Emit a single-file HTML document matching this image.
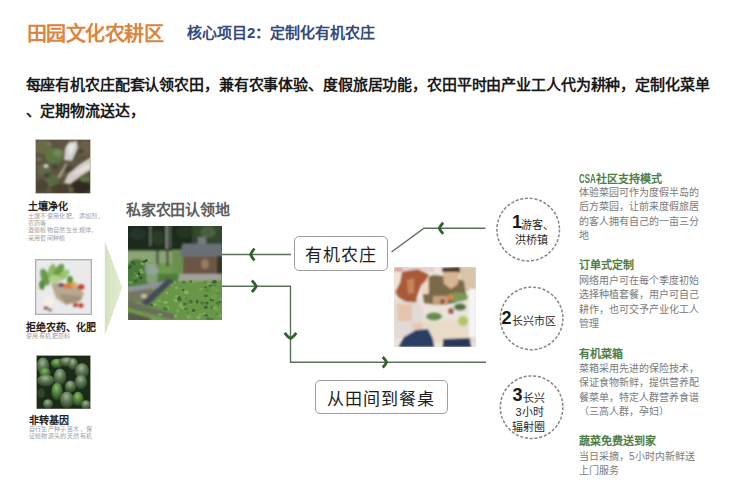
<!DOCTYPE html>
<html lang="zh-CN"><head><meta charset="utf-8">
<style>
html,body{margin:0;padding:0;background:#fff;}
body{width:740px;height:492px;position:relative;overflow:hidden;font-family:"Liberation Sans",sans-serif;}
.t{position:absolute;white-space:nowrap;line-height:1;}
.title{left:26.5px;top:24px;font-size:20px;letter-spacing:-0.5px;font-weight:bold;color:#db8540;}
.sub{left:187px;top:24.6px;font-size:15px;font-weight:bold;color:#34497a;}
.para{left:25.5px;top:71.6px;font-size:15px;letter-spacing:-0.13px;font-weight:bold;color:#1a1a1a;line-height:26.5px;}
.h1{font-size:10px;font-weight:bold;color:#222;}
.s1{font-size:6px;letter-spacing:0.4px;color:#a0a0a0;line-height:7.4px;}
.photo{position:absolute;overflow:hidden;}
.box{position:absolute;border:1.3px solid #9e9e9e;border-radius:5px;background:#fff;box-sizing:border-box;}
.bt{position:absolute;font-size:17px;letter-spacing:1px;color:#1e1e1e;line-height:1;white-space:nowrap;}
.rh{font-size:11px;font-weight:bold;color:#4f7d45;}
.csa{display:inline-block;width:17.3px;white-space:nowrap;}
.csa i{font-style:normal;font-size:12.5px;display:inline-block;transform:scaleX(0.64);transform-origin:0 0;vertical-align:-0.5px}
.rb{font-size:10px;color:#7a7a7a;line-height:14.3px;}
.circ{position:absolute;width:64px;height:64px;border-radius:50%;border:1.4px dashed #8a8a8a;box-sizing:border-box;}
.cn{font-size:18px;font-weight:bold;color:#1a1a1a;}
.ct{font-size:11px;color:#2a2a2a;}
</style></head><body>

<div class="t title">田园文化农耕区</div>
<div class="t sub">核心项目2：定制化有机农庄</div>
<div class="t para">每座有机农庄配套认领农田，兼有农事体验、度假旅居功能，农田平时由产业工人代为耕种，定制化菜单<br>、定期物流送达，</div>

<!-- left photos -->
<svg class="photo" style="left:35px;top:139px;width:56px;height:55px" viewBox="0 0 56 55">
  <defs><filter id="b1" x="-20%" y="-20%" width="140%" height="140%"><feGaussianBlur stdDeviation="1"/></filter>
  <filter id="b1b" x="-20%" y="-20%" width="140%" height="140%"><feGaussianBlur stdDeviation="0.5"/></filter></defs>
  <rect width="56" height="55" fill="#5c5442"/>
  <g filter="url(#b1)">
    <ellipse cx="8" cy="8" rx="9" ry="7" fill="#6a6a4a"/>
    <ellipse cx="19" cy="17" rx="9" ry="8" fill="#5d7444"/>
    <ellipse cx="23" cy="14" rx="5" ry="4" fill="#6e8a52"/>
    <ellipse cx="9" cy="31" rx="7" ry="6" fill="#62684a"/>
    <ellipse cx="17" cy="41" rx="7" ry="6" fill="#586a42"/>
    <ellipse cx="6" cy="47" rx="7" ry="6" fill="#4a4434"/>
    <ellipse cx="26" cy="50" rx="10" ry="5" fill="#48402f"/>
    <ellipse cx="46" cy="48" rx="10" ry="7" fill="#2e2a22"/>
    <ellipse cx="50" cy="9" rx="6" ry="8" fill="#6a5e48"/>
    <ellipse cx="50" cy="40" rx="5" ry="3" fill="#5a7448"/>
    <ellipse cx="34" cy="30" rx="4" ry="3" fill="#4a4232"/>
  </g>
  <g filter="url(#b1)" opacity="0.8">
    <ellipse cx="4" cy="20" rx="3" ry="2" fill="#7a7660"/><ellipse cx="14" cy="5" rx="3" ry="2" fill="#7a7a5a"/>
    <ellipse cx="28" cy="36" rx="3" ry="2" fill="#6e6a52"/><ellipse cx="12" cy="36" rx="3" ry="2" fill="#3e382c"/>
    <ellipse cx="20" cy="28" rx="3" ry="2.5" fill="#433e30"/><ellipse cx="46" cy="12" rx="3" ry="2" fill="#453e30"/>
    <ellipse cx="36" cy="50" rx="3" ry="2" fill="#6a6a50"/><ellipse cx="52" cy="22" rx="2" ry="2" fill="#3e382c"/>
  </g>
  <g filter="url(#b1)">
    <path d="M29 21 L30 9 L34 3 L42 2 L43 9 L37 22 Z" fill="#cfcdcb"/>
    <path d="M33 6 L40 4 L38 13 L34 17 Z" fill="#e6e6e6"/>
    <path d="M29 44 L33 35 L45 25 L56 18 L56 31 L46 37 L35 45 Z" fill="#d2ccc8"/>
    <path d="M37 36 L49 27 L56 24 L56 28 L43 35 Z" fill="#e4e0de"/>
    <path d="M22 39 L23.5 36 L31 24 L32.5 25 L25 39 Z" fill="#a8a08a"/>
    <ellipse cx="11" cy="27" rx="2.6" ry="2" fill="#d6d6cc"/>
  </g>
  <rect x="0.5" y="0.5" width="55" height="54" fill="none" stroke="#c9c4b4" stroke-width="1"/>
</svg>
<div class="t h1" style="left:28px;top:202px">土壤净化</div>
<div class="t s1" style="left:27.5px;top:212.5px">土壤不使用化肥、添加剂、<br>农药等<br>遵循植物自然生长规律，<br>采用套间种植</div>

<svg class="photo" style="left:35px;top:259px;width:57px;height:56px" viewBox="0 0 57 56">
  <defs><filter id="b2" x="-20%" y="-20%" width="140%" height="140%"><feGaussianBlur stdDeviation="0.9"/></filter></defs>
  <rect width="57" height="56" fill="#b0b0b0"/>
  <rect x="1.3" y="1.3" width="54.4" height="53.4" fill="#eaeaec"/>
  <g filter="url(#b2)">
    <ellipse cx="10" cy="18" rx="4" ry="9" transform="rotate(-20 10 18)" fill="#6a9a48"/>
    <ellipse cx="17" cy="13" rx="4" ry="8" transform="rotate(10 17 13)" fill="#8ab862"/>
    <ellipse cx="24" cy="12" rx="4" ry="8" transform="rotate(30 24 12)" fill="#6c9c4a"/>
    <ellipse cx="29" cy="16" rx="3.5" ry="7" transform="rotate(45 29 16)" fill="#9cc474"/>
    <ellipse cx="7" cy="26" rx="3" ry="5" fill="#5a8a40"/>
    <ellipse cx="20" cy="20" rx="6" ry="4" fill="#b0d088"/>
    <ellipse cx="35" cy="21" rx="3" ry="4" fill="#5a8a44"/>
    <path d="M16 24 L40 25 L49 34 L46 42 L31 46 L21 39 Z" fill="#b8a890"/>
    <path d="M24 35 L46 37 L45 42 L31 45 Z" fill="#a4927c"/>
    <ellipse cx="33" cy="27" rx="5" ry="2.6" fill="#e07a36"/>
    <ellipse cx="26" cy="26" rx="3" ry="2" fill="#6e4e6a"/>
    <ellipse cx="39" cy="25" rx="3" ry="2" fill="#e0b040"/>
    <ellipse cx="46" cy="28" rx="3.5" ry="2.8" fill="#c83c30"/>
    <ellipse cx="40.5" cy="46" rx="2.6" ry="2.3" fill="#c84438"/>
    <ellipse cx="46" cy="46.5" rx="2.6" ry="2.3" fill="#c03a30"/>
    <ellipse cx="14" cy="42" rx="5" ry="4.5" fill="#f4f2e8"/>
    <ellipse cx="11" cy="49" rx="2.5" ry="1.8" fill="#8a5a40"/>
    <ellipse cx="15" cy="51" rx="2" ry="1.5" fill="#9a6a50"/>
  </g>
</svg>
<div class="t h1" style="left:26px;top:322.5px">拒绝农药、化肥</div>
<div class="t s1" style="left:26px;top:332.5px">使用有机肥原料</div>

<svg class="photo" style="left:35.5px;top:354.5px;width:55px;height:54.5px" viewBox="0 0 55 54.5">
  <defs><filter id="b3" x="-20%" y="-20%" width="140%" height="140%"><feGaussianBlur stdDeviation="0.6"/></filter>
  <radialGradient id="lf" cx="0.45" cy="0.3" r="0.7"><stop offset="0" stop-color="#a2b69a"/><stop offset="0.45" stop-color="#5c7852"/><stop offset="1" stop-color="#2a3e24"/></radialGradient>
  <radialGradient id="lm" cx="0.45" cy="0.3" r="0.7"><stop offset="0" stop-color="#8cb868"/><stop offset="0.5" stop-color="#4f7e3a"/><stop offset="1" stop-color="#263c20"/></radialGradient>
  </defs>
  <rect width="55" height="54.5" fill="#1c2a18"/>
  <g filter="url(#b3)">
    <ellipse cx="7" cy="11" rx="6.2" ry="8.4" fill="url(#lf)"/>
    <ellipse cx="21" cy="8.5" rx="6.2" ry="4.8" fill="url(#lm)"/>
    <ellipse cx="31" cy="7" rx="8.1" ry="4.8" fill="url(#lf)"/>
    <ellipse cx="37" cy="9" rx="5.0" ry="6.0" fill="url(#lf)"/>
    <ellipse cx="46" cy="16" rx="6.9" ry="7.8" fill="url(#lf)"/>
    <ellipse cx="9" cy="18" rx="5.6" ry="5.4" fill="url(#lm)"/>
    <ellipse cx="24" cy="22" rx="6.2" ry="8.4" fill="url(#lf)"/>
    <ellipse cx="10" cy="25.5" rx="8.8" ry="6.0" fill="url(#lf)"/>
    <ellipse cx="34.5" cy="31.5" rx="5.6" ry="6.0" fill="url(#lf)"/>
    <ellipse cx="45" cy="27" rx="6.2" ry="7.2" fill="url(#lf)"/>
    <ellipse cx="21" cy="36.5" rx="5.6" ry="9.0" fill="url(#lm)"/>
    <ellipse cx="31" cy="45" rx="6.9" ry="8.4" fill="url(#lf)"/>
    <ellipse cx="42" cy="44" rx="5.6" ry="7.2" fill="url(#lm)"/>
    <ellipse cx="12" cy="49" rx="5.0" ry="4.8" fill="url(#lf)"/>
    <ellipse cx="50" cy="50" rx="5.0" ry="4.8" fill="url(#lf)"/>
    <ellipse cx="5" cy="38" rx="3.8" ry="4.8" fill="#2e4428"/>
  </g>
  <rect x="0.4" y="0.4" width="54.2" height="53.7" fill="none" stroke="#c8c8c0" stroke-width="0.8"/>
</svg>
<div class="t h1" style="left:29px;top:415.8px">非转基因</div>
<div class="t s1" style="left:28.5px;top:425.5px">自行生产种子苗木，保<br>证植物源头的天然有机</div>

<!-- triangle -->
<svg style="position:absolute;left:0;top:0;width:740px;height:492px;overflow:visible" viewBox="0 0 740 492">
  <defs><linearGradient id="tg" x1="0" x2="1" y1="0" y2="0"><stop offset="0" stop-color="#d5e2bd"/><stop offset="1" stop-color="#e3ebd6"/></linearGradient></defs>
  <polygon points="104.8,241.5 122.3,287.5 104.8,335" fill="url(#tg)"/>
  <!-- lines -->
  <g stroke="#587258" stroke-width="1.4" fill="none">
    <line x1="221" y1="254.5" x2="291" y2="254.5"/>
    <polyline points="221,286.3 290.5,286.3 290.5,362.3 486,362.3"/>
    <polyline points="391.5,252 424,228.3 485.5,228.3"/>
  </g>
  <g stroke="#335e2e" stroke-width="2.8" fill="none" stroke-linecap="butt" stroke-linejoin="round">
    <path d="M254.4,248.5 Q251.4,252.3 250.6,254.5 Q251.4,256.7 254.4,260.5"/>
    <path d="M251.8,280.6 Q255.4,284.1 256.2,286.3 Q255.4,288.5 251.8,292.0"/>
    <path d="M443.1,222.7 Q440.1,226.1 439.3,228.3 Q440.1,230.5 443.1,233.9"/>
    <path d="M284.7,332.9 Q288.3,337.7 290.5,338.5 Q292.7,337.7 296.3,332.9"/>
    <path d="M382.7,356.9 Q385.8,360.0 386.6,362.2 Q385.8,364.4 382.7,367.5"/>
  </g>
</svg>

<div class="t" style="left:126px;top:202.3px;font-size:15px;letter-spacing:-0.25px;font-weight:bold;color:#5e5e5e">私家农田认领地</div>

<svg class="photo" style="left:128px;top:226px;width:94px;height:94px" viewBox="0 0 94 94">
  <defs><filter id="b4" x="-10%" y="-10%" width="120%" height="120%"><feGaussianBlur stdDeviation="0.9"/></filter>
  <filter id="b4s" x="-10%" y="-10%" width="120%" height="120%"><feGaussianBlur stdDeviation="0.6"/></filter></defs>
  <rect width="94" height="94" fill="#6e9c4c"/>
  <g filter="url(#b4)">
    <rect x="-4" y="-4" width="102" height="29" fill="#1f2b1d"/>
    <ellipse cx="10" cy="8" rx="8" ry="6" fill="#27362a"/>
    <ellipse cx="30" cy="12" rx="6" ry="8" fill="#2a3a28"/>
    <ellipse cx="56" cy="6" rx="8" ry="6" fill="#263424"/>
    <rect x="64" y="-4" width="34" height="22" fill="#33472f"/>
    <ellipse cx="80" cy="6" rx="8" ry="6" fill="#4a6040"/>
    <rect x="21.5" y="-2" width="1.8" height="22" fill="#6a7668"/>
    <rect x="37.5" y="-2" width="2.4" height="25" fill="#7e887c"/>
    <rect x="41.5" y="-2" width="1.4" height="24" fill="#626c60"/>
    <rect x="-4" y="23" width="58" height="3" fill="#2e3e2a"/>
    <rect x="-4" y="25" width="58" height="12" fill="#8aa474"/>
    <rect x="28.5" y="25" width="2" height="17" fill="#3a3a30"/>
    <rect x="38.5" y="25" width="2" height="15" fill="#3a3a30"/>
    <rect x="44" y="24" width="12" height="24" fill="#6a9050"/>
    <path d="M54.6 17.8 L94 17.8 L94 30.5 L51.6 30.5 Z" fill="#6b6f78"/>
    <rect x="70" y="11" width="8" height="7" fill="#767a7c"/>
    <rect x="55" y="30.5" width="35" height="19" fill="#6c5444"/>
    <ellipse cx="77" cy="38" rx="4" ry="5" fill="#9a7a5e"/>
    <rect x="89" y="30" width="6" height="22" fill="#303828"/>
    <ellipse cx="9" cy="46" rx="11" ry="13" fill="#4a7a38"/>
    <rect x="-4" y="48" width="54" height="12" fill="#4c7c3a"/>
    <ellipse cx="24" cy="52" rx="6" ry="6" fill="#82a078"/>
    <path d="M17 38 L30 38 L30 48 L17 48 Z" fill="#a0a8b0" opacity="0.7"/>
    <path d="M52 48 L94 48 L94 55 L50 55 Z" fill="#a2a29a"/>
    <path d="M0 61 L43 54 L45 59 L0 67 Z" fill="#8e949a"/>
    <path d="M0 66 L24 62 L26 76 L0 76 Z" fill="#767462"/>
    <ellipse cx="16" cy="70" rx="3" ry="2" fill="#c0c0b8"/>
    <path d="M13 77 L40 52 L46 55 L20 80 Z" fill="#454c56"/>
    <path d="M20 80 L46 56 L94 54 L94 94 L36 94 Z" fill="#689646"/>
    <path d="M0 75 L46 88 L46 94 L0 82 Z" fill="#6c6c5a"/>
    <path d="M0 86 L22 92 L22 97 L0 97 Z" fill="#5a5848"/>
  </g>
  <g filter="url(#b4s)">
    <ellipse cx="37.6" cy="76.2" rx="2.5" ry="1.5" fill="#86b060"/>
    <ellipse cx="63.0" cy="78.6" rx="1.6" ry="1.2" fill="#6e9e4c"/>
    <ellipse cx="93.7" cy="73.3" rx="1.9" ry="1.6" fill="#72a04e"/>
    <ellipse cx="31.1" cy="79.8" rx="1.7" ry="1.0" fill="#72a04e"/>
    <ellipse cx="77.5" cy="61.2" rx="1.6" ry="1.0" fill="#3e6a30"/>
    <ellipse cx="84.0" cy="73.4" rx="2.2" ry="1.9" fill="#3a6230"/>
    <ellipse cx="49.2" cy="86.2" rx="2.5" ry="1.1" fill="#6e9e4c"/>
    <ellipse cx="47.0" cy="56.4" rx="1.5" ry="2.0" fill="#6e9e4c"/>
    <ellipse cx="52.3" cy="79.4" rx="1.8" ry="1.8" fill="#80ac5c"/>
    <ellipse cx="62.5" cy="75.8" rx="2.0" ry="1.9" fill="#3a6230"/>
    <ellipse cx="70.5" cy="91.2" rx="2.6" ry="1.7" fill="#80ac5c"/>
    <ellipse cx="32.1" cy="88.6" rx="2.5" ry="1.6" fill="#72a04e"/>
    <ellipse cx="72.8" cy="63.2" rx="1.6" ry="1.1" fill="#80ac5c"/>
    <ellipse cx="83.2" cy="93.6" rx="1.7" ry="1.1" fill="#4a7a38"/>
    <ellipse cx="86.4" cy="55.8" rx="2.3" ry="1.9" fill="#3a6230"/>
    <ellipse cx="23.3" cy="79.0" rx="1.7" ry="1.6" fill="#3e6a30"/>
    <ellipse cx="60.8" cy="91.0" rx="1.9" ry="2.0" fill="#80ac5c"/>
    <ellipse cx="64.4" cy="56.2" rx="2.6" ry="1.3" fill="#7aa858"/>
    <ellipse cx="39.5" cy="81.9" rx="1.6" ry="2.0" fill="#86b060"/>
    <ellipse cx="86.4" cy="69.7" rx="2.4" ry="1.4" fill="#6e9e4c"/>
    <ellipse cx="84.1" cy="81.6" rx="2.1" ry="1.9" fill="#4a7a38"/>
    <ellipse cx="57.5" cy="71.8" rx="2.5" ry="1.4" fill="#7aa858"/>
    <ellipse cx="39.1" cy="66.8" rx="1.2" ry="1.4" fill="#86b060"/>
    <ellipse cx="62.9" cy="55.8" rx="1.3" ry="1.6" fill="#5a8a44"/>
    <ellipse cx="54.5" cy="81.5" rx="2.1" ry="1.3" fill="#86b060"/>
    <ellipse cx="56.2" cy="78.0" rx="2.5" ry="1.3" fill="#3e6a30"/>
    <ellipse cx="53.8" cy="78.1" rx="1.4" ry="1.2" fill="#86b060"/>
    <ellipse cx="76.1" cy="87.9" rx="1.6" ry="1.4" fill="#80ac5c"/>
    <ellipse cx="77.1" cy="56.0" rx="1.6" ry="1.2" fill="#5a8a44"/>
    <ellipse cx="79.5" cy="64.3" rx="2.1" ry="1.6" fill="#5a8a44"/>
    <ellipse cx="27.2" cy="78.4" rx="2.1" ry="1.2" fill="#86b060"/>
    <ellipse cx="79.9" cy="92.5" rx="1.7" ry="1.7" fill="#4a7a38"/>
    <ellipse cx="85.5" cy="72.6" rx="2.3" ry="1.0" fill="#7aa858"/>
    <ellipse cx="90.9" cy="67.3" rx="2.4" ry="1.3" fill="#5a8a44"/>
    <ellipse cx="81.3" cy="58.3" rx="2.0" ry="1.4" fill="#86b060"/>
    <ellipse cx="58.4" cy="88.1" rx="1.7" ry="1.4" fill="#6e9e4c"/>
    <ellipse cx="51.1" cy="71.0" rx="1.4" ry="1.0" fill="#3a6230"/>
    <ellipse cx="89.8" cy="89.3" rx="1.8" ry="2.0" fill="#72a04e"/>
    <ellipse cx="88.6" cy="63.7" rx="2.4" ry="1.7" fill="#6e9e4c"/>
    <ellipse cx="58.4" cy="66.3" rx="2.4" ry="1.9" fill="#86b060"/>
    <ellipse cx="83.5" cy="92.9" rx="2.3" ry="1.0" fill="#4a7a38"/>
    <ellipse cx="86.9" cy="82.1" rx="2.5" ry="1.9" fill="#7aa858"/>
    <ellipse cx="62.7" cy="55.5" rx="1.4" ry="1.3" fill="#4a7a38"/>
    <ellipse cx="69.1" cy="75.5" rx="1.3" ry="1.9" fill="#3a6230"/>
    <ellipse cx="91.9" cy="76.1" rx="1.7" ry="1.2" fill="#3e6a30"/>
    <ellipse cx="59.6" cy="86.9" rx="1.5" ry="1.3" fill="#5a8a44"/>
    <ellipse cx="85.8" cy="60.0" rx="1.9" ry="1.6" fill="#3e6a30"/>
    <ellipse cx="49.6" cy="84.5" rx="1.6" ry="1.5" fill="#7aa858"/>
    <ellipse cx="51.3" cy="73.4" rx="2.4" ry="1.8" fill="#3e6a30"/>
    <ellipse cx="55.7" cy="56.3" rx="1.9" ry="1.5" fill="#4a7a38"/>
    <ellipse cx="48.5" cy="70.2" rx="1.7" ry="1.2" fill="#80ac5c"/>
    <ellipse cx="44.3" cy="59.8" rx="1.2" ry="1.7" fill="#72a04e"/>
    <ellipse cx="78.9" cy="77.1" rx="1.7" ry="1.6" fill="#3e6a30"/>
    <ellipse cx="77.9" cy="69.8" rx="2.1" ry="1.4" fill="#3e6a30"/>
    <ellipse cx="47.6" cy="74.3" rx="1.8" ry="1.7" fill="#86b060"/>
    <ellipse cx="54.1" cy="64.6" rx="1.6" ry="1.6" fill="#72a04e"/>
    <ellipse cx="79.4" cy="63.8" rx="2.4" ry="1.9" fill="#5a8a44"/>
    <ellipse cx="47.7" cy="90.0" rx="1.4" ry="1.7" fill="#80ac5c"/>
    <ellipse cx="89.5" cy="83.5" rx="2.3" ry="1.7" fill="#72a04e"/>
    <ellipse cx="74.3" cy="77.0" rx="2.3" ry="1.7" fill="#4a7a38"/>
    <ellipse cx="55.0" cy="64.2" rx="1.3" ry="1.1" fill="#3a6230"/>
    <ellipse cx="82.3" cy="59.7" rx="2.1" ry="1.8" fill="#4a7a38"/>
    <ellipse cx="90.5" cy="77.6" rx="1.3" ry="1.8" fill="#4a7a38"/>
    <ellipse cx="57.8" cy="82.9" rx="2.0" ry="1.1" fill="#4a7a38"/>
    <ellipse cx="60.9" cy="76.5" rx="2.4" ry="1.2" fill="#5a8a44"/>
    <ellipse cx="65.6" cy="84.4" rx="1.6" ry="1.6" fill="#3a6230"/>
    <ellipse cx="89.5" cy="76.7" rx="1.7" ry="1.2" fill="#4a7a38"/>
    <ellipse cx="88.8" cy="87.9" rx="1.8" ry="1.6" fill="#5a8a44"/>
    <ellipse cx="62.9" cy="91.0" rx="1.4" ry="1.4" fill="#6e9e4c"/>
    <ellipse cx="85.7" cy="61.3" rx="2.2" ry="1.9" fill="#6e9e4c"/>
    <ellipse cx="58.3" cy="72.3" rx="1.4" ry="1.8" fill="#5a8a44"/>
    <ellipse cx="30.8" cy="75.1" rx="2.4" ry="1.5" fill="#7aa858"/>
    <ellipse cx="77.7" cy="81.2" rx="2.0" ry="1.6" fill="#3a6230"/>
    <ellipse cx="92.8" cy="89.7" rx="1.2" ry="1.5" fill="#80ac5c"/>
    <ellipse cx="48.3" cy="61.7" rx="1.5" ry="1.5" fill="#86b060"/>
    <ellipse cx="83.9" cy="71.3" rx="2.2" ry="1.2" fill="#6e9e4c"/>
    <ellipse cx="63.0" cy="90.2" rx="1.2" ry="2.0" fill="#72a04e"/>
    <ellipse cx="78.0" cy="89.4" rx="1.9" ry="1.2" fill="#3e6a30"/>
    <ellipse cx="37.4" cy="83.0" rx="2.5" ry="1.9" fill="#4a7a38"/>
    <ellipse cx="72.2" cy="88.5" rx="1.4" ry="1.0" fill="#80ac5c"/>
    <ellipse cx="3.7" cy="36.2" rx="1.1" ry="1.3" fill="#3a6030"/>
    <ellipse cx="18.3" cy="34.9" rx="1.7" ry="1.7" fill="#2e5028"/>
    <ellipse cx="0.1" cy="42.0" rx="1.5" ry="1.1" fill="#2e5028"/>
    <ellipse cx="12.9" cy="51.8" rx="1.5" ry="1.5" fill="#2e5028"/>
    <ellipse cx="2.4" cy="40.6" rx="1.1" ry="1.9" fill="#2e5028"/>
    <ellipse cx="18.2" cy="36.3" rx="1.8" ry="1.4" fill="#7aa05a"/>
    <ellipse cx="9.0" cy="49.9" rx="1.1" ry="1.9" fill="#7aa05a"/>
    <ellipse cx="6.8" cy="47.6" rx="1.1" ry="1.5" fill="#5a8a44"/>
    <ellipse cx="7.0" cy="51.2" rx="1.9" ry="1.6" fill="#5a8a44"/>
    <ellipse cx="14.6" cy="37.6" rx="2.1" ry="1.7" fill="#7aa05a"/>
    <ellipse cx="2.5" cy="56.4" rx="2.1" ry="1.6" fill="#6a9a50"/>
    <ellipse cx="13.0" cy="44.1" rx="1.8" ry="1.5" fill="#7aa05a"/>
    <ellipse cx="6.2" cy="38.2" rx="1.1" ry="1.2" fill="#3a6030"/>
    <ellipse cx="11.1" cy="47.8" rx="1.4" ry="1.3" fill="#2e5028"/>
    <ellipse cx="7.7" cy="54.9" rx="1.6" ry="1.3" fill="#3a6030"/>
    <ellipse cx="13.9" cy="46.4" rx="2.1" ry="1.4" fill="#7aa05a"/>
    <ellipse cx="16.2" cy="35.7" rx="2.0" ry="1.1" fill="#2e5028"/>
    <ellipse cx="5.4" cy="36.4" rx="1.7" ry="1.9" fill="#3a6030"/>
    </g>
</svg>

<!-- boxes -->
<div class="box" style="left:294px;top:236px;width:94px;height:35px"></div>
<div class="bt" style="left:305px;top:246.7px">有机农庄</div>
<div class="box" style="left:315px;top:380px;width:133px;height:34px"></div>
<div class="bt" style="left:327.4px;top:391px">从田间到餐桌</div>

<!-- couple photo -->
<svg class="photo" style="left:394px;top:267px;width:82px;height:80px" viewBox="0 0 82 80">
  <defs><filter id="b5" x="-10%" y="-10%" width="120%" height="120%"><feGaussianBlur stdDeviation="1.1"/></filter></defs>
  <rect width="82" height="80" fill="#ece4dc"/>
  <g filter="url(#b5)">
    <rect x="0" y="0" width="40" height="5" fill="#e2d2ce"/>
    <rect x="0.5" y="0.5" width="8" height="4" fill="#d8a4a0"/>
    <rect x="66" y="0" width="16" height="24" fill="#d8c4a8"/>
    <rect x="75" y="22" width="7" height="50" fill="#f4f4f6"/>
    <path d="M27 12 L40 8 L56 10 L70 14 L72 28 L62 36 L44 38 L30 36 Z" fill="#7a6a4a"/>
    <path d="M48 1 L66 0 L66 6 L49 6 Z" fill="#4a3526"/>
    <path d="M49 5 L65 5 L64 17 L57 22 L50 17 Z" fill="#d8b492"/>
    <path d="M39 29 L54 29 L54 38 L39 38 Z" fill="#c4a080"/>
    <path d="M0 34 L24 30 L30 46 L26 70 L0 72 Z" fill="#e2dad6"/>
    <path d="M3 37 L18 37 L18 54 L4 54 Z" fill="#e6c4ac"/>
    <path d="M18.5 56 L49 55 L49 61 L18.5 63 Z" fill="#e8c8b0"/>
    <path d="M27.9 10 L34.7 10 L34.7 27 L27.9 27 Z" fill="#f0d6c4"/>
    <path d="M8.2 4.8 L23.6 2.3 L34.7 7.4 L32 13.4 L27 18.5 L23.6 27 L21.9 35.5 L11.7 34.7 L4.8 30.4 L1.4 25.3 L6.5 15 Z" fill="#a85a38"/>
    <path d="M13 13 L20 11 L20 26 L14 27 Z" fill="#c8845a"/>
    <path d="M28 54 L82 52 L82 76 L30 76 Z" fill="#e8dcc8"/>
    <ellipse cx="41" cy="50" rx="11" ry="6" fill="#dfe6d0"/>
    <ellipse cx="40" cy="49.5" rx="8" ry="4" fill="#6a8a50"/>
    <ellipse cx="65" cy="40" rx="8" ry="5" fill="#d6e0cc"/>
    <ellipse cx="66" cy="40" rx="6" ry="3.5" fill="#4e7040"/>
    <ellipse cx="64" cy="30" rx="10" ry="4.5" fill="#7a9a58"/>
    <ellipse cx="56" cy="30" rx="4" ry="2.5" fill="#d48a4a"/>
    <ellipse cx="69" cy="54" rx="5" ry="5" fill="#b8c468"/>
    <ellipse cx="48.5" cy="34.5" rx="2.6" ry="2.6" fill="#9a4e48"/>
    <ellipse cx="57" cy="44" rx="2.8" ry="3" fill="#a25a52"/>
    <rect x="75" y="36" width="7" height="34" fill="#f4f4f6"/>
    <path d="M4.8 80 L10 70 L22 63 L34 62 L39 72 L40 80 Z" fill="#2a3c64"/>
    <path d="M49 72 L76 71 L77 80 L49 80 Z" fill="#2a3858"/>
  </g>
</svg>

<!-- circles -->
<svg style="position:absolute;left:0;top:0;width:740px;height:492px" viewBox="0 0 740 492">
  <g fill="none" stroke="#858585" stroke-width="1.5" stroke-dasharray="3 1.8">
    <circle cx="528.2" cy="229.6" r="31.3"/>
    <circle cx="531.6" cy="318.4" r="31.3"/>
    <circle cx="531.6" cy="407.2" r="31.3"/>
  </g>
</svg>
<div class="t cn" style="left:512px;top:213px">1</div>
<div class="t ct" style="left:521px;top:219.5px">游客、</div>
<div class="t ct" style="left:514.5px;top:234.5px">洪桥镇</div>

<div class="t cn" style="left:501.5px;top:309.3px">2</div>
<div class="t ct" style="left:512px;top:316px">长兴市区</div>

<div class="t cn" style="left:512.5px;top:386px">3</div>
<div class="t ct" style="left:523px;top:393px">长兴</div>
<div class="t ct" style="left:515.5px;top:407px">3小时</div>
<div class="t ct" style="left:512px;top:421.7px">辐射圈</div>

<!-- right column -->
<div class="t rh" style="left:579px;top:173px"><span class="csa"><i>CSA</i></span>社区支持模式</div>
<div class="t rb" style="left:579px;top:186px">体验菜园可作为度假半岛的<br>后方菜园，让前来度假旅居<br>的客人拥有自己的一亩三分<br>地</div>

<div class="t rh" style="left:579px;top:260px">订单式定制</div>
<div class="t rb" style="left:579px;top:274px">网络用户可在每个季度初始<br>选择种植套餐，用户可自己<br>耕作，也可交予产业化工人<br>管理</div>

<div class="t rh" style="left:579px;top:348.5px">有机菜箱</div>
<div class="t rb" style="left:579px;top:362px">菜箱采用先进的保险技术，<br>保证食物新鲜，提供营养配<br>餐菜单，特定人群营养食谱<br>（三高人群，孕妇）</div>

<div class="t rh" style="left:579px;top:435.5px">蔬菜免费送到家</div>
<div class="t rb" style="left:579px;top:450px">当日采摘，5小时内新鲜送<br>上门服务</div>

</body></html>
